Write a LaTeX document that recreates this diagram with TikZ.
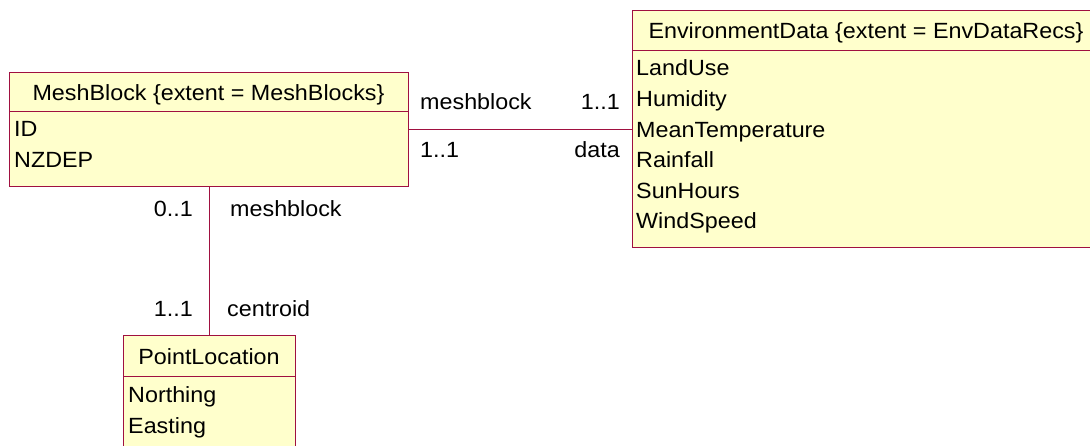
\documentclass[tikz,border=0pt]{standalone}
\usepackage{fontspec}
\setmainfont{Liberation Sans}[FakeStretch=1.06]
\definecolor{umlfill}{HTML}{FFFFCC}
\definecolor{umlline}{HTML}{A01040}
\begin{document}
\begin{tikzpicture}[x=1pt,y=-1pt,
  font=\fontsize{22}{26}\selectfont,
  cls/.style={draw=umlline,fill=umlfill,line width=1pt,inner sep=0pt,anchor=north west},
  conn/.style={draw=umlline,line width=1pt},
  hdr/.style={anchor=base,inner sep=0pt},
  attr/.style={anchor=base west,inner sep=0pt},
  lblL/.style={anchor=base west,inner sep=0pt},
  lblR/.style={anchor=base east,inner sep=0pt}]
\useasboundingbox (0,0) rectangle (1090,446);
% MeshBlock
\node[cls,minimum width=399pt,minimum height=114pt] (mb) at (9,72) {};
\draw[conn] (9,112) coordinate (mbdl) -- (mbdl -| mb.east);
\node[hdr] (mbh) at (208.5,101) {MeshBlock \{extent = MeshBlocks\}};
\node[attr] (mba1) at (14,137) {ID};
\node[attr] (mba2) at (14,168) {NZDEP};
% EnvironmentData
\node[cls,minimum width=470pt,minimum height=237pt] (ed) at (632,10) {};
\draw[conn] (632,51) coordinate (eddl) -- (eddl -| ed.east);
\node[hdr] (edh) at (866,39) {EnvironmentData \{extent = EnvDataRecs\}};
\node[attr] (eda1) at (636,76) {LandUse};
\node[attr] (eda2) at (636,106.6) {Humidity};
\node[attr] (eda3) at (636,137.2) {MeanTemperature};
\node[attr] (eda4) at (636,167.8) {Rainfall};
\node[attr] (eda5) at (636,198.4) {SunHours};
\node[attr] (eda6) at (636,229) {WindSpeed};
% PointLocation
\node[cls,minimum width=172pt,minimum height=130pt] (pl) at (123,335) {};
\draw[conn] (123,376) coordinate (pldl) -- (pldl -| pl.east);
\node[hdr] (plh) at (209,365) {PointLocation};
\node[attr] (pla1) at (128,402) {Northing};
\node[attr] (pla2) at (128,433) {Easting};
% connectors
\draw[conn] (mb.east) -- (mb.east -| ed.west);
\draw[conn] (mb.south -| pl.north) -- (pl.north);
% labels
\node[lblL] (l1) at (420,110) {meshblock};
\node[lblR] (l2) at (620,110) {1..1};
\node[lblL] (l3) at (420,158) {1..1};
\node[lblR] (l4) at (620,158) {data};
\node[lblR] (l5) at (193,217) {0..1};
\node[lblL] (l6) at (230,217) {meshblock};
\node[lblR] (l7) at (193,317) {1..1};
\node[lblL] (l8) at (227,317) {centroid};
\end{tikzpicture}
\end{document}
